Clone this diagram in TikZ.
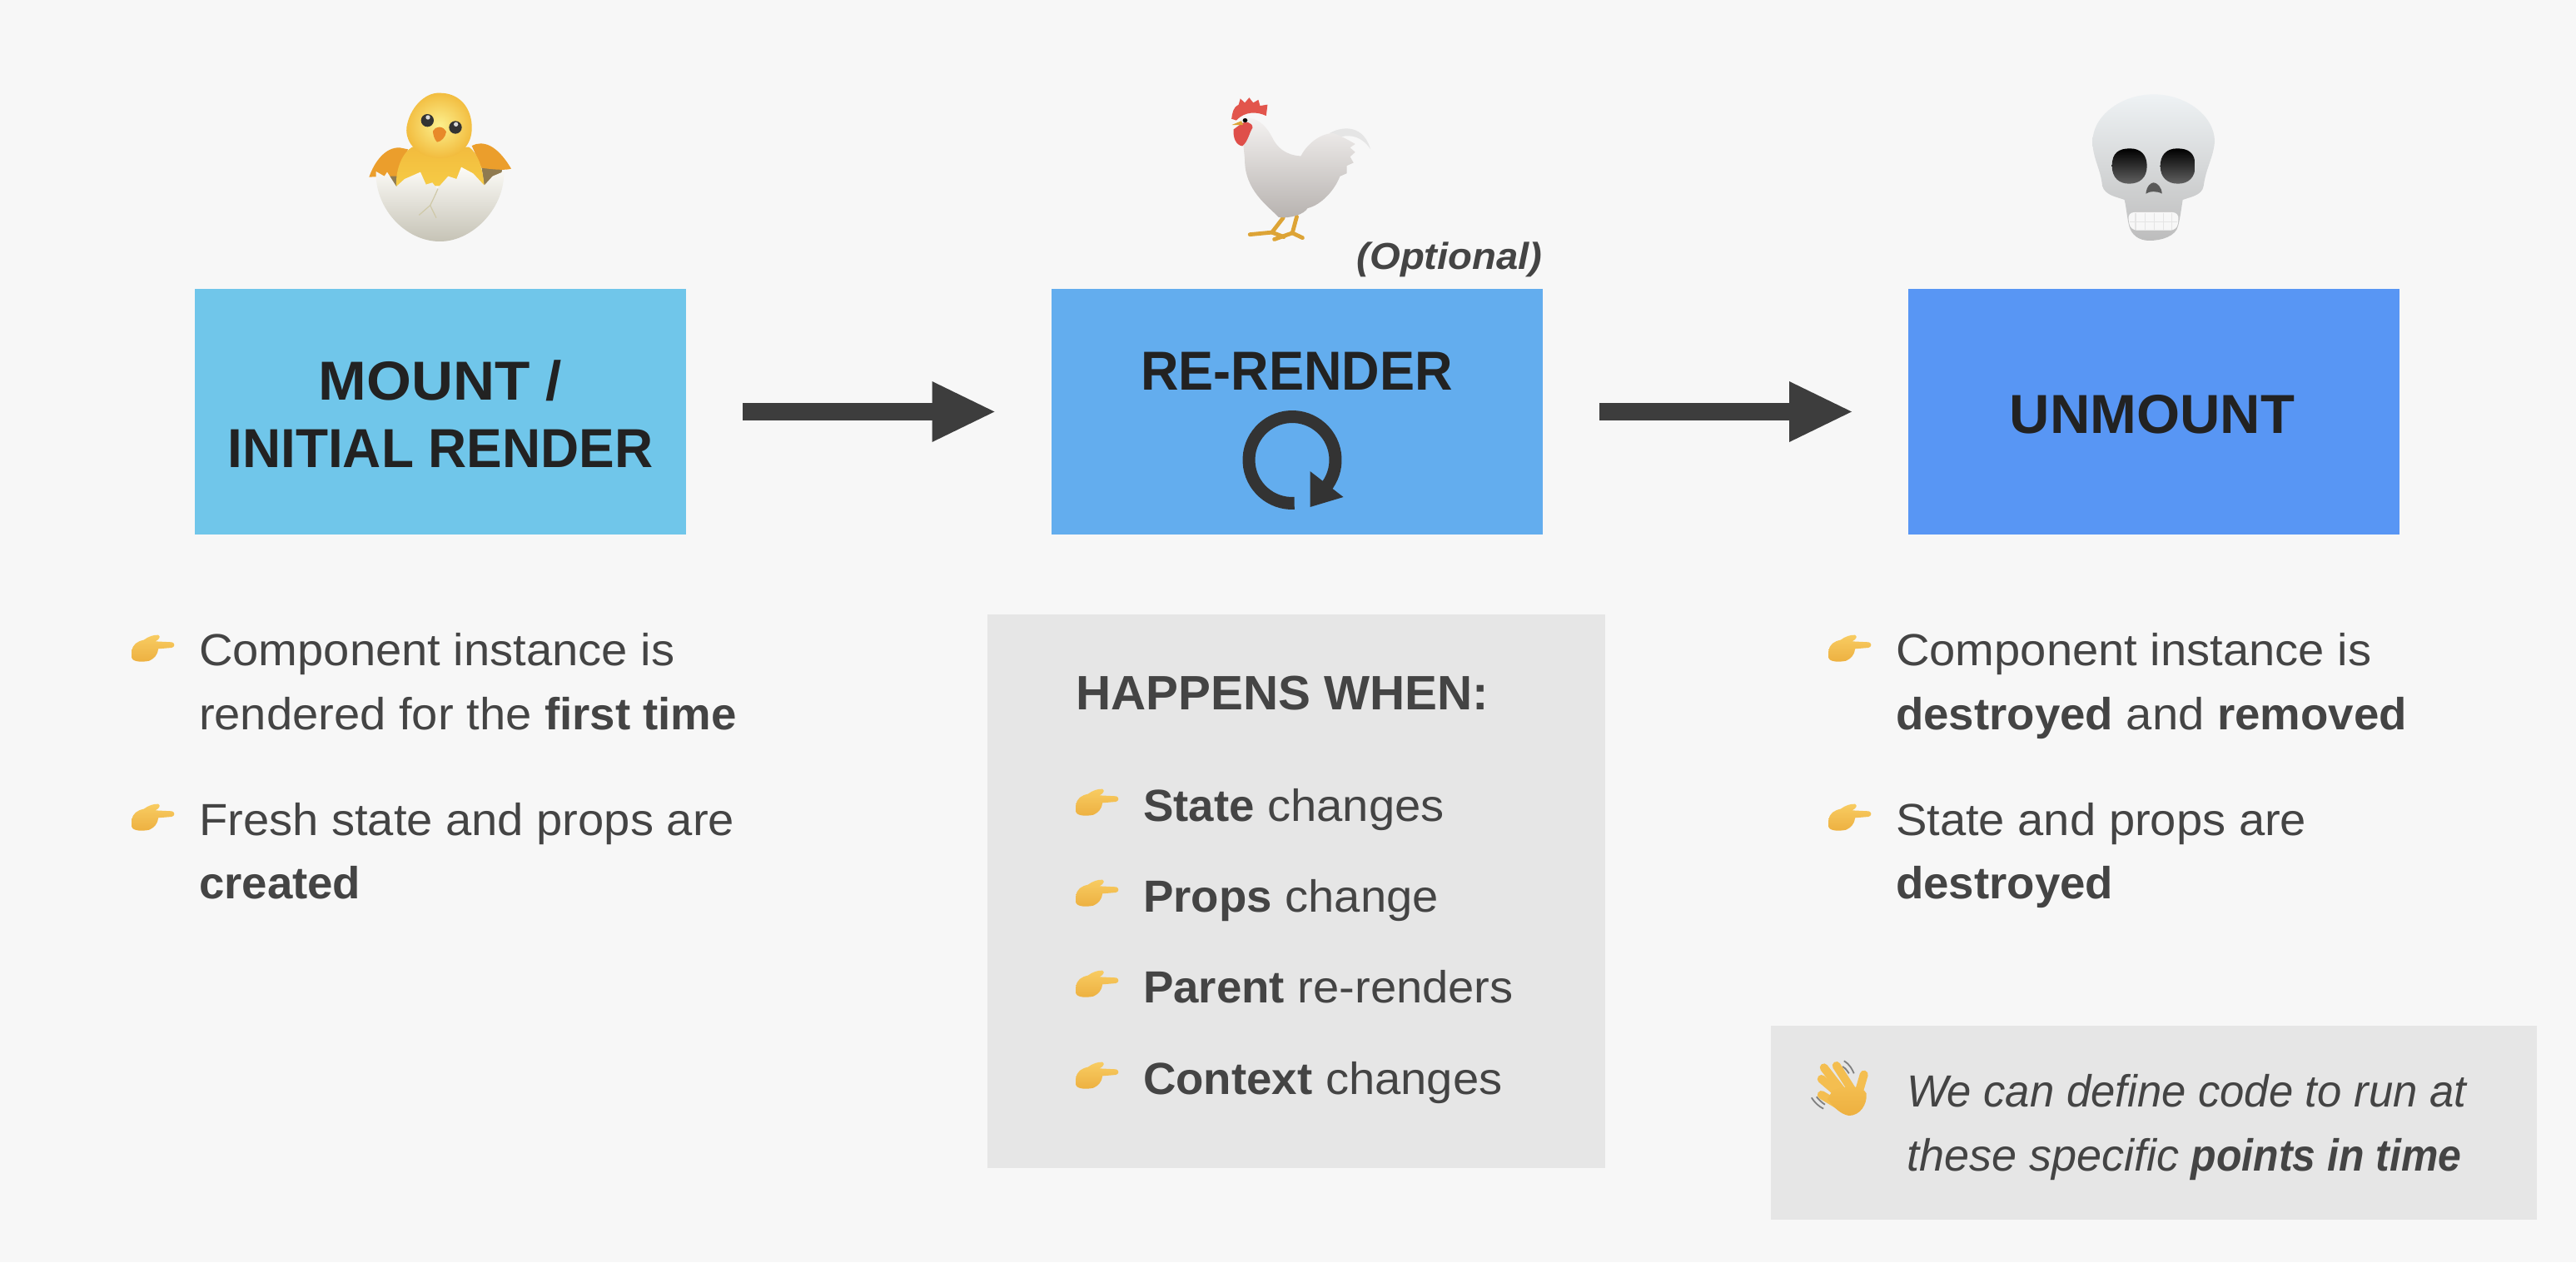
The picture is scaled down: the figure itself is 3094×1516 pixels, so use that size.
\documentclass[tikz,border=0pt]{standalone}
\usepackage{fontspec}
\setmainfont[UprightFeatures={FakeStretch=1.04},BoldFeatures={FakeStretch=1.012},ItalicFeatures={FakeStretch=.975},BoldItalicFeatures={FakeStretch=.925}]{Liberation Sans}
\newfontfamily\famMountA[FakeStretch=1.05]{Liberation Sans}
\newfontfamily\famMountB[FakeStretch=.968]{Liberation Sans}
\newfontfamily\famRe[FakeStretch=.955]{Liberation Sans}
\newfontfamily\famUn[FakeStretch=1.015]{Liberation Sans}
\newfontfamily\famHap[FakeStretch=1.006]{Liberation Sans}
\newfontfamily\famOpt[FakeStretch=1.05]{Liberation Sans}
\newfontfamily\famThese[FakeStretch=1.0]{Liberation Sans}
\usetikzlibrary{arrows.meta}
\definecolor{bg}{HTML}{F7F7F7}
\definecolor{panel}{HTML}{E6E6E6}
\definecolor{ink}{HTML}{444444}
\definecolor{dark}{HTML}{222222}
\definecolor{arrowc}{HTML}{3D3D3D}
\definecolor{loopc}{HTML}{333333}
\definecolor{mountc}{HTML}{70C6EA}
\definecolor{rerenderc}{HTML}{63ADEE}
\definecolor{unmountc}{HTML}{5896F4}
\definecolor{handtop}{HTML}{F8CC62}
\definecolor{handmid}{HTML}{F4BE50}
\definecolor{handlow}{HTML}{EDB040}
\definecolor{chickhi}{HTML}{FCF08E}
\definecolor{chicklo}{HTML}{F2BC3E}
\definecolor{chickbody}{HTML}{F6CB45}
\definecolor{wingc}{HTML}{EB9E2C}
\definecolor{beakc}{HTML}{E8892A}
\definecolor{shellin}{HTML}{8F7A50}
\definecolor{eggtop}{HTML}{FCFBF7}
\definecolor{eggmid}{HTML}{F6F4EC}
\definecolor{egglow}{HTML}{C6C3B6}
\definecolor{crackc}{HTML}{CFC9A8}
\definecolor{combc}{HTML}{E2554C}
\definecolor{wattlec}{HTML}{DF4F4A}
\definecolor{legc}{HTML}{DDA436}
\definecolor{henhi}{HTML}{F6F4F3}
\definecolor{henlo}{HTML}{B7B2AF}
\definecolor{skullhi}{HTML}{EEF2F4}
\definecolor{skullmid}{HTML}{E2E4E5}
\definecolor{skulllo}{HTML}{BDBDBD}
\newcommand{\bodyfont}{\fontsize{27}{38}\selectfont}
\newcommand{\headfont}{\fontsize{33}{40.5}\selectfont\bfseries}
\tikzset{
  x=.5pt,y=-.5pt,
  stage/.style={minimum width=295pt,minimum height=147.5pt,inner sep=0pt,outer sep=0pt},
  headtxt/.style={inner sep=0pt,outer sep=0pt,text=dark,align=center},
  panelbox/.style={fill=panel,draw=none,inner sep=0pt,outer sep=0pt},
  txt/.style={anchor=base west,inner sep=0pt,outer sep=0pt,text=ink,font=\bodyfont},
  flow/.style={draw=arrowc,line width=10.5pt,shorten <=34pt,shorten >=34pt,-{Triangle[length=37.5pt,width=36.5pt,line width=0pt,fill=arrowc]}},
  pics/pointhand/.style={code={
    \begin{scope}[x=.5/3*1pt,y=-.5/3*1pt,shift={(-297,-110)}]
      \shade[top color=handtop,bottom color=handlow] (55,125) .. controls (58,100) and (75,90) .. (98,85)
        .. controls (115,72) and (135,66) .. (150,67) .. controls (160,72) and (155,82) .. (140,90)
        -- (200,93) .. controls (212,97) and (210,111) .. (198,113) -- (150,117)
        .. controls (148,140) and (135,152) .. (118,160) .. controls (95,165) and (60,165) .. (55,150) -- cycle;
    \end{scope}}},
}
\begin{document}
\begin{tikzpicture}
\useasboundingbox (0,0) rectangle (3094,1516);
\fill[bg] (0,0) rectangle (3094,1516);

% stage boxes
\node[stage,fill=mountc] (mount) at (529,494.5) {};
\node[stage,fill=rerenderc] (rerender) at (1557.5,494.5) {};
\node[stage,fill=unmountc] (unmount) at (2587,494.5) {};
\node[headtxt,font=\headfont] (mountlabel) at (529,497) {{\famMountA MOUNT /}\\{\famMountB INITIAL RENDER}};
\node[headtxt,anchor=base,font=\headfont] (rerenderlabel) at (1557.5,468) {\famRe RE-RENDER};
\node[headtxt,anchor=base,font=\headfont] (unmountlabel) at (2585,520) {\famUn UNMOUNT};
\node[anchor=base east,inner sep=0pt,text=ink,font=\fontsize{22.5}{26}\selectfont\bfseries\itshape] (optional) at (1853,323) {\famOpt (Optional)};

% connectors
\draw[flow] (mount.east) -- (rerender.west);
\draw[flow] (rerender.east) -- (unmount.west);

% loop symbol
\draw[loopc,line width=7.5pt] (1552,552.5) ++(87:52) arc[start angle=87,end angle=400,radius=52];
\fill[loopc] (1573.5,566) -- (1613.5,597) -- (1573.5,609) -- cycle;

% left bullets
\node[txt] (a1) at (239,799) {Component instance is};
\node[txt] (a2) at (239,876) {rendered for the \textbf{first time}};
\node[txt] (a3) at (239,1003) {Fresh state and props are};
\node[txt] (a4) at (239,1079) {\textbf{created}};
\pic at (239,777) {pointhand};
\pic at (239,980) {pointhand};

% middle panel
\node[panelbox,minimum width=371pt,minimum height=332.5pt] (happens) at (1557,1070.5) {};
\node[txt,font=\fontsize{29}{34}\selectfont\bfseries] (h0) at (1292,852) {\famHap HAPPENS WHEN:};
\node[txt] (h1) at (1373,986) {\textbf{State} changes};
\node[txt] (h2) at (1373,1095) {\textbf{Props} change};
\node[txt] (h3) at (1373,1204) {\textbf{Parent} re-renders};
\node[txt] (h4) at (1373,1314) {\textbf{Context} changes};
\pic at (1373,962) {pointhand};
\pic at (1373,1071) {pointhand};
\pic at (1373,1180) {pointhand};
\pic at (1373,1290) {pointhand};

% right bullets
\node[txt] (c1) at (2277,799) {Component instance is};
\node[txt] (c2) at (2277,876) {\textbf{destroyed} and \textbf{removed}};
\node[txt] (c3) at (2277,1003) {State and props are};
\node[txt] (c4) at (2277,1079) {\textbf{destroyed}};
\pic at (2277,777) {pointhand};
\pic at (2277,980) {pointhand};

% note panel
\node[panelbox,minimum width=460pt,minimum height=116.5pt] (note) at (2587,1348) {};
\node[txt,font=\bodyfont\itshape] (n1) at (2290,1329) {We can define code to run at};
\node[txt,font=\bodyfont\itshape] (n2) at (2290,1406) {{\famThese\itshape these specific} \textbf{points in time}};

% waving hand
\begin{scope}[shift={(2120,1220)},x=.5/1.668*1pt,y=-.5/3*1pt]
  \draw[gray,line width=.9pt] (158,163) .. controls (170,175) and (175,195) .. (178,208);
  \draw[gray,line width=.9pt] (155,183) .. controls (162,190) and (165,200) .. (168,208);
  \draw[gray,line width=.9pt] (93,295) .. controls (98,310) and (108,328) .. (117,335);
  \draw[gray,line width=.9pt] (103,292) .. controls (108,303) and (115,315) .. (120,320);
  \begin{scope}[line cap=round,line width=5pt,draw=handmid]
    \draw (118,187) -- (160,285);
    \draw (143,180) -- (175,270);
    \draw (113,228) -- (150,285);
    \draw (113,285) -- (150,325);
    \draw (198,212) -- (187,280);
  \end{scope}
  \shade[top color=handmid,bottom color=handlow] (135,270) .. controls (160,250) and (195,250) .. (203,280)
     .. controls (205,320) and (190,360) .. (168,360) .. controls (150,355) and (135,325) .. (125,300) -- cycle;
\end{scope}

% hatching chick
\begin{scope}[shift={(400,80)},x=.5/3*1pt,y=-.5/3*1pt]
  \fill[shellin] (200,375) -- (240,375) -- (240,440) -- (210,430) -- cycle;
  \fill[shellin] (535,360) -- (610,365) -- (600,430) -- (545,430) -- cycle;
  \fill[wingc] (130,398) .. controls (150,340) and (190,290) .. (240,292) -- (270,298) -- (240,395) -- (190,395) -- cycle;
  \fill[wingc] (500,285) .. controls (540,265) and (590,280) .. (642,368) .. controls (620,375) and (570,370) .. (535,365) -- cycle;
  \shade[top color=chicklo,bottom color=chickbody] (228,430) .. controls (225,370) and (250,310) .. (285,290)
     -- (490,290) .. controls (530,320) and (540,380) .. (545,430) -- cycle;
  \shade[inner color=chickhi,outer color=chicklo] (265,220) .. controls (275,150) and (330,92) .. (385,95)
     .. controls (450,95) and (495,140) .. (500,210) .. controls (505,290) and (450,330) .. (380,330)
     .. controls (310,325) and (260,280) .. (265,220) -- cycle;
  \fill[black!80] (340,194) circle[radius=23];
  \fill[black!80] (441,219) circle[radius=23];
  \fill[white!85!black] (342,183) circle[radius=8];
  \fill[white!85!black] (443,208) circle[radius=8];
  \fill[beakc] (360,232) .. controls (368,215) and (395,210) .. (408,235)
     .. controls (405,255) and (390,270) .. (375,272) .. controls (365,262) and (360,245) .. (360,232) -- cycle;
  \shade[top color=eggtop,middle color=eggmid,bottom color=egglow]
     (155,378) -- (185,395) -- (195,380) -- (228,432) -- (258,405) -- (315,380) -- (335,425) -- (358,418) -- (375,440)
     -- (415,395) -- (445,405) -- (462,362) -- (505,385) -- (545,428) -- (575,395) -- (615,378)
     .. controls (622,500) and (510,630) .. (385,630) .. controls (260,630) and (150,510) .. (155,378) -- cycle;
  \draw[crackc,line width=.6pt] (378,440) .. controls (365,470) and (360,480) .. (350,500) -- (310,535);
  \draw[crackc,line width=.6pt] (350,500) -- (372,545);
\end{scope}

% rooster
\begin{scope}[shift={(1240,90)},x=.5/2.45*1pt,y=-.5/2.75*1pt,line join=round,line cap=round]
  \draw[legc,line width=2.4pt] (738,472) -- (705,520) -- (640,527);
  \draw[legc,line width=2.4pt] (778,468) -- (765,522) -- (795,538);
  \draw[legc,line width=2.4pt] (765,522) -- (712,543);
  \draw[legc,line width=2.4pt] (705,520) -- (740,535);
  \fill[black!10] (875,192) .. controls (920,165) and (975,170) .. (995,245) .. controls (970,205) and (940,195) .. (905,205) -- cycle;
  \shade[top color=henhi,bottom color=henlo]
     (612,150) .. controls (640,130) and (680,150) .. (705,205) .. controls (720,240) and (745,265) .. (790,268)
     .. controls (805,235) and (840,195) .. (885,192) .. controls (905,200) and (930,215) .. (950,228) -- (935,240)
     -- (950,255) -- (935,270) -- (945,290) -- (925,300) -- (925,325) -- (905,335) .. controls (890,380) and (850,430) .. (810,440)
     .. controls (800,460) and (760,475) .. (725,470) .. controls (690,430) and (625,380) .. (625,280)
     .. controls (622,240) and (618,200) .. (612,150) -- cycle;
  \fill[combc] (586,145) .. controls (588,125) and (592,105) .. (607,98) -- (612,78) -- (625,92) -- (638,75) -- (650,92) -- (665,82) -- (670,102) -- (692,98) -- (688,135)
     .. controls (660,120) and (625,120) .. (600,150) -- cycle;
  \fill[wattlec] (592,180) -- (610,165) .. controls (625,150) and (648,155) .. (648,175) .. controls (640,185) and (635,220) .. (618,235)
     .. controls (600,232) and (590,210) .. (592,180) -- cycle;
  \fill[legc] (587,165) -- (615,152) -- (620,165) -- cycle;
  \fill[black] (626,150) circle[radius=7];
\end{scope}

% skull
\begin{scope}[shift={(2480,90)},x=.5/3*1pt,y=-.5/3*1pt]
  \shade[top color=skullhi,middle color=skullmid,bottom color=skulllo]
     (100,240) .. controls (100,150) and (200,70) .. (320,70) .. controls (440,70) and (540,150) .. (540,240)
     .. controls (535,300) and (510,330) .. (500,400) .. controls (495,435) and (450,440) .. (425,450)
     .. controls (420,480) and (415,520) .. (408,545) .. controls (400,580) and (350,597) .. (305,597)
     .. controls (265,597) and (240,575) .. (232,545) .. controls (225,520) and (222,480) .. (215,450)
     .. controls (190,440) and (145,435) .. (135,400) .. controls (130,340) and (100,300) .. (100,240) -- cycle;
  \shade[top color=black,bottom color=black!62] (170,328) .. controls (170,280) and (195,265) .. (235,265) .. controls (275,265) and (296,290) .. (296,328) .. controls (296,370) and (270,392) .. (232,392) .. controls (195,392) and (170,370) .. (170,328) -- cycle;
  \shade[top color=black,bottom color=black!62] (470,328) .. controls (470,280) and (445,265) .. (405,265) .. controls (365,265) and (344,290) .. (344,328) .. controls (344,370) and (370,392) .. (408,392) .. controls (445,392) and (470,370) .. (470,328) -- cycle;
  \fill[black!65] (292,428) .. controls (295,400) and (310,388) .. (320,388) .. controls (332,388) and (350,405) .. (350,428) .. controls (335,418) and (305,418) .. (292,428) -- cycle;
  \fill[white!97!black,rounded corners=4pt] (226,495) -- (412,495) -- (405,560) -- (236,560) -- cycle;
  \foreach \tx in {255,290,322,355,385}{\draw[black!10,line width=.6pt] (\tx,497) -- (\tx,558);}
  \draw[black!10,line width=.6pt] (235,530) -- (405,530);
\end{scope}
\end{tikzpicture}
\end{document}
